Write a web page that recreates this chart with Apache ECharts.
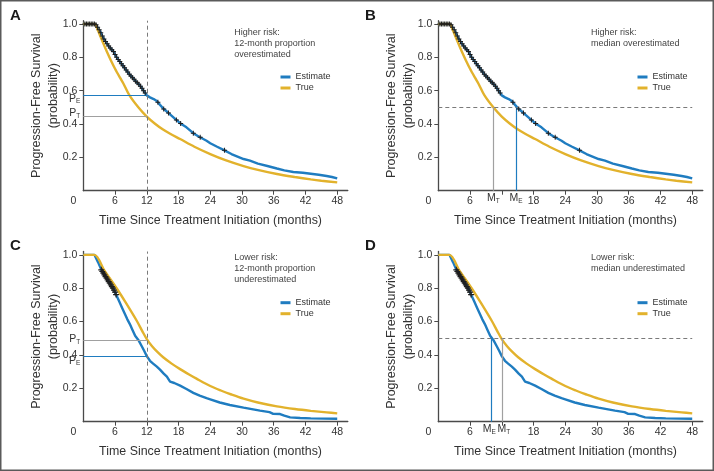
<!DOCTYPE html>
<html><head><meta charset="utf-8">
<script src="https://cdn.jsdelivr.net/npm/echarts@6/dist/echarts.min.js"></script>
<style>html,body{margin:0;padding:0;background:#fff}#c{width:714px;height:471px}</style>
</head><body><div id="c"></div>
<script>
// ---------- data ----------
// Higher-risk scenario (panels A, B)
const highEstT = [0, 2.3, 2.7, 3.2, 3.8, 4.4, 5.0, 5.7, 6.3, 6.9, 7.5, 8.2, 8.8, 9.5, 10.1, 10.7, 11.4, 12.0, 12.6, 13.3, 13.9, 14.5, 15.2, 15.8, 16.5, 17.2, 18.3, 19.5, 20.8, 21.8, 23.3, 24.0, 25.2, 26.5, 28.0, 30.3, 31.5, 33.0, 34.8, 36.6, 38.0, 39.7, 41.5, 43.0, 44.5, 46.0, 47.0, 48.0];
const highEstS = [1, 1, 0.98, 0.955, 0.915, 0.885, 0.86, 0.835, 0.80, 0.775, 0.75, 0.72, 0.695, 0.672, 0.65, 0.632, 0.60, 0.572, 0.56, 0.55, 0.538, 0.515, 0.49, 0.475, 0.455, 0.435, 0.405, 0.38, 0.345, 0.325, 0.30, 0.285, 0.265, 0.245, 0.22, 0.19, 0.18, 0.162, 0.148, 0.133, 0.122, 0.112, 0.108, 0.102, 0.096, 0.088, 0.082, 0.074];
const highTrueT = [0, 2.2, 2.6, 3.0, 3.5, 4.4, 5.2, 6.0, 7.0, 7.6, 8.7, 10.4, 12, 13.5, 15, 16.5, 18.3, 21, 24, 27, 30.3, 33, 36.6, 40, 43, 45, 48];
const highTrueS = [1, 1, 0.975, 0.945, 0.905, 0.838, 0.783, 0.732, 0.675, 0.642, 0.573, 0.50, 0.444, 0.403, 0.368, 0.34, 0.31, 0.264, 0.22, 0.182, 0.148, 0.125, 0.1, 0.082, 0.068, 0.06, 0.05];
const highCensT = [0.3, 0.6, 0.9, 1.2, 1.5, 1.8, 2.1, 2.4, 2.7, 3.0, 3.3, 3.6, 3.9, 4.2, 4.5, 4.8, 5.1, 5.4, 5.7, 6.0, 6.3, 6.6, 6.9, 7.2, 7.5, 7.8, 8.1, 8.4, 8.7, 9.0, 9.3, 9.6, 9.9, 10.2, 10.5, 10.8, 11.1, 11.4, 11.7, 14.1, 15.2, 16.1, 17.6, 18.4, 20.8, 22.1, 26.7];
const highCensS = [1, 1, 1, 1, 1, 1, 1, 0.995, 0.98, 0.965, 0.948, 0.928, 0.91, 0.895, 0.881, 0.868, 0.856, 0.846, 0.835, 0.817, 0.80, 0.787, 0.775, 0.762, 0.75, 0.737, 0.724, 0.712, 0.699, 0.688, 0.678, 0.668, 0.657, 0.647, 0.638, 0.627, 0.614, 0.60, 0.586, 0.53, 0.49, 0.466, 0.424, 0.403, 0.345, 0.32, 0.242];
// Lower-risk scenario (panels C, D)
const lowEstT = [0, 2.1, 2.8, 3.5, 4.2, 5.0, 5.7, 6.3, 6.8, 7.3, 7.8, 8.3, 8.8, 9.3, 9.8, 10.4, 11.0, 11.5, 12.0, 12.6, 13.2, 13.9, 14.5, 15.2, 15.8, 16.4, 17.2, 18.3, 19.5, 20.8, 22.0, 23.3, 24.0, 25.8, 27.7, 30.3, 33.4, 35.2, 35.9, 37.2, 38.0, 39.1, 41.0, 43.0, 48.0];
const lowEstS = [1, 1, 0.955, 0.905, 0.87, 0.83, 0.795, 0.755, 0.72, 0.685, 0.65, 0.615, 0.585, 0.55, 0.515, 0.49, 0.455, 0.425, 0.393, 0.365, 0.348, 0.33, 0.312, 0.288, 0.27, 0.24, 0.232, 0.216, 0.196, 0.173, 0.156, 0.141, 0.134, 0.115, 0.10, 0.084, 0.066, 0.057, 0.047, 0.046, 0.036, 0.026, 0.022, 0.02, 0.018];
const lowTrueT = [0, 2.1, 4.0, 6.3, 8.0, 10.1, 11.2, 12.0, 13.0, 14.0, 15.1, 16.7, 18.3, 20.0, 21.4, 24.0, 26.0, 28.0, 30.3, 33.0, 36.6, 40.0, 43.0, 46.0, 48.0];
const lowTrueS = [1, 1, 0.905, 0.80, 0.715, 0.605, 0.54, 0.495, 0.452, 0.418, 0.386, 0.348, 0.315, 0.283, 0.258, 0.214, 0.187, 0.163, 0.138, 0.115, 0.092, 0.076, 0.065, 0.056, 0.05];
const lowCensT = [3.4, 3.6, 3.8, 4.0, 4.2, 4.4, 4.6, 4.8, 5.0, 5.2, 5.4, 5.6, 5.8, 6.0, 6.2];
const lowCensS = [0.91, 0.90, 0.89, 0.88, 0.87, 0.86, 0.85, 0.84, 0.83, 0.82, 0.81, 0.80, 0.789, 0.776, 0.762];
// span of months where censor marks crowd the estimate curve (drawn dark)
const highCensSpan = [0, 11.8];
const lowCensSpan = [3.3, 6.3];

// landmarks: [estimate, true]
const landmarkMonth = 12;
const medianLevel = 0.5;
const highProp12 = [0.57, 0.444];
const lowProp12 = [0.393, 0.487];
const highMedian = [14.7, 10.4];
const lowMedian = [10.0, 12.0];

// axis ticks / labels
const xLabelsFull = [0, 6, 12, 18, 24, 30, 36, 42, 48];
const xLabelsMedian = [0, 6, 18, 24, 30, 36, 42, 48];
const xTickVals = [6, 12, 18, 24, 30, 36, 42, 48];
const yTickVals = [0.2, 0.4, 0.6, 0.8, 1.0];

const panelLetters = ['A', 'B', 'C', 'D'];
const panelNotes = ['Higher risk:\n12-month proportion\noverestimated', 'Higher risk:\nmedian overestimated', 'Lower risk:\n12-month proportion\nunderestimated', 'Lower risk:\nmedian underestimated'];
const legendNames = ['Estimate', 'True'];

// ---------- styling / layout ----------
const BLUE = '#1f7cc0', GOLD = '#e2b22c', GREY = '#a0a0a0', AX = '#4a4a4a', TXT = '#333', DARK = '#262626';
const sans = "'Liberation Sans', Arial, sans-serif";
const grids = [
  {left: 83.3, top: 20.7, width: 264.5, height: 170},
  {left: 438.3, top: 20.7, width: 264.5, height: 170},
  {left: 83.3, top: 251.5, width: 264.5, height: 170.2},
  {left: 438.3, top: 251.5, width: 264.5, height: 170.2}
];
const letterPos = [[10, 8], [365, 8], [10, 238], [365, 238]];
const notePos = [[234.3, 26.6], [591, 26.8], [234.3, 252.2], [591, 252.2]];
const legendPos = [[280.5, 71.5], [637.5, 71.5], [280.5, 297.2], [637.5, 297.2]];

const rich = {s: {fontSize: 6.5, lineHeight: 13, verticalAlign: 'bottom', color: TXT, fontFamily: sans, padding: [5, 0, 0, 0]}};
function lbl(text, pad, pos) {
  return {show: true, position: pos, formatter: text, fontSize: 10.5, lineHeight: 13, color: TXT, fontFamily: sans, distance: 3, padding: pad, rich: rich};
}

const option = {
  animation: false,
  backgroundColor: '#fff',
  grid: grids,
  title: [],
  legend: [],
  visualMap: [],
  xAxis: [],
  yAxis: [],
  series: [],
  graphic: [{type: 'rect', shape: {x: 0.75, y: 0.75, width: 712.5, height: 469.5}, style: {fill: 'none', stroke: '#5a5a5a', lineWidth: 1.5}, silent: true}]
};

for (let i = 0; i < 4; i++) {
  const high = i < 2;
  const medianPanel = (i % 2) === 1;
  const eT = high ? highEstT : lowEstT, eS = high ? highEstS : lowEstS;
  const tT = high ? highTrueT : lowTrueT, tS = high ? highTrueS : lowTrueS;
  const cT = high ? highCensT : lowCensT, cS = high ? highCensS : lowCensS;
  const span = high ? highCensSpan : lowCensSpan;

  option.title.push({text: panelLetters[i], left: letterPos[i][0], top: letterPos[i][1], padding: 0,
    textStyle: {fontSize: 15, fontWeight: 'bold', color: '#1a1a1a', fontFamily: sans}});
  option.title.push({text: panelNotes[i], left: notePos[i][0], top: notePos[i][1], padding: 0,
    textStyle: {fontSize: 9, lineHeight: 11, fontWeight: 'normal', color: '#444', fontFamily: sans}});
  option.legend.push({data: legendNames, orient: 'vertical', left: legendPos[i][0], top: legendPos[i][1], padding: 0,
    itemWidth: 10, itemHeight: 3, itemGap: 0, icon: 'rect', selectedMode: false,
    textStyle: {fontSize: 9, lineHeight: 11, color: TXT, fontFamily: sans}});

  option.xAxis.push({
    gridIndex: i, type: 'value', min: 0, max: 50,
    axisLine: {show: true, onZero: false, lineStyle: {color: AX, width: 1.3}},
    axisTick: {show: true, length: 4, customValues: xTickVals, lineStyle: {color: AX, width: 1}},
    axisLabel: {customValues: medianPanel ? xLabelsMedian : xLabelsFull, margin: 5, fontSize: 10.5, color: TXT, fontFamily: sans,
      formatter: v => v === 0 ? '{z|0}' : String(v),
      rich: {z: {padding: [0, 20, 0, 0], fontSize: 10.5, color: TXT, fontFamily: sans}}},
    splitLine: {show: false},
    name: 'Time Since Treatment Initiation (months)', nameLocation: 'middle', nameGap: 24, nameMoveOverlap: false,
    nameTextStyle: {fontFamily: sans, fontSize: 12.4, color: TXT, padding: [0, 10, 0, 0]}
  });
  option.yAxis.push({
    gridIndex: i, type: 'value', min: 0, max: 1.02,
    axisLine: {show: true, onZero: false, lineStyle: {color: AX, width: 1.3}},
    axisTick: {show: true, length: 4, customValues: yTickVals, lineStyle: {color: AX, width: 1}},
    axisLabel: {customValues: yTickVals, margin: 6, fontSize: 10.5, color: TXT, fontFamily: sans, formatter: v => v.toFixed(1)},
    splitLine: {show: false},
    name: 'Progression-Free Survival\n{b|(probability)}', nameLocation: 'middle', nameGap: 21, nameMoveOverlap: false,
    nameTextStyle: {fontFamily: sans, fontSize: 12.5, lineHeight: 17, color: TXT,
      rich: {b: {fontFamily: sans, fontSize: 12.5, lineHeight: 17, color: TXT, padding: [0, 0, 0, 20]}}}
  });

  // reference lines
  const ml = [];
  const dashed = {color: '#7a7a7a', width: 1, type: [4, 3]};
  if (!medianPanel) {
    const p = high ? highProp12 : lowProp12;
    const estAbove = p[0] > p[1];
    ml.push([{coord: [0, p[0]], lineStyle: {color: BLUE, width: 1.2, type: 'solid'},
              label: lbl('P{s|E}', estAbove ? [6, 0, 0, 0] : [9, 0, 0, 0], 'start')}, {coord: [landmarkMonth, p[0]]}]);
    ml.push([{coord: [0, p[1]], lineStyle: {color: GREY, width: 1.2, type: 'solid'},
              label: lbl('P{s|T}', estAbove ? [0, 0, 7, 0] : [0, 0, 2, 0], 'start')}, {coord: [landmarkMonth, p[1]]}]);
    ml.push([{coord: [landmarkMonth, 0], lineStyle: dashed, label: {show: false}}, {coord: [landmarkMonth, 1.02]}]);
  } else {
    const m = high ? highMedian : lowMedian;
    const tightPair = !high;
    ml.push([{coord: [0, medianLevel], lineStyle: dashed, label: {show: false}}, {coord: [48, medianLevel]}]);
    ml.push([{coord: [m[1], 0], lineStyle: {color: GREY, width: 1.2, type: 'solid'},
              label: Object.assign(lbl('M{s|T}', tightPair ? [0, 0, 0, 4] : 0, 'start'), {distance: 1})}, {coord: [m[1], medianLevel]}]);
    ml.push([{coord: [m[0], 0], lineStyle: {color: BLUE, width: 1.2, type: 'solid'},
              label: Object.assign(lbl('M{s|E}', tightPair ? [0, 4, 0, 0] : 0, 'start'), {distance: 1})}, {coord: [m[0], medianLevel]}]);
  }

  const estIndex = option.series.length;
  option.series.push({
    type: 'line', name: 'Estimate', xAxisIndex: i, yAxisIndex: i,
    data: eT.map((t, k) => [t, eS[k]]), showSymbol: false, symbol: 'none',
    lineStyle: {color: BLUE, width: 2.4}, itemStyle: {color: BLUE}, z: 3, silent: true,
    markLine: {silent: true, symbol: 'none', animation: false, data: ml}
  });
  const pieces = [];
  if (span[0] > 0) pieces.push({gte: 0, lt: span[0], color: BLUE});
  pieces.push({gte: span[0], lte: span[1], color: DARK});
  pieces.push({gt: span[1], lte: 60, color: BLUE});
  option.visualMap.push({type: 'piecewise', show: false, seriesIndex: estIndex, dimension: 0, pieces: pieces});

  option.series.push({
    type: 'line', name: 'True', xAxisIndex: i, yAxisIndex: i,
    data: tT.map((t, k) => [t, tS[k]]), showSymbol: false, symbol: 'none', smooth: 0.3,
    lineStyle: {color: GOLD, width: 2.4}, itemStyle: {color: GOLD}, z: 4, silent: true
  });
  option.series.push({
    type: 'scatter', name: 'Censored', xAxisIndex: i, yAxisIndex: i,
    data: cT.map((t, k) => [t, cS[k]]),
    symbol: 'path://M0,4H10V6H0ZM4,0H6V10H4Z', symbolSize: high ? 5 : 6,
    itemStyle: {color: '#1e1e1e', opacity: 1}, z: 5, silent: true
  });
}

const chart = echarts.init(document.getElementById('c'), null, {renderer: 'canvas'});
chart.setOption(option);
</script>
</body></html>
